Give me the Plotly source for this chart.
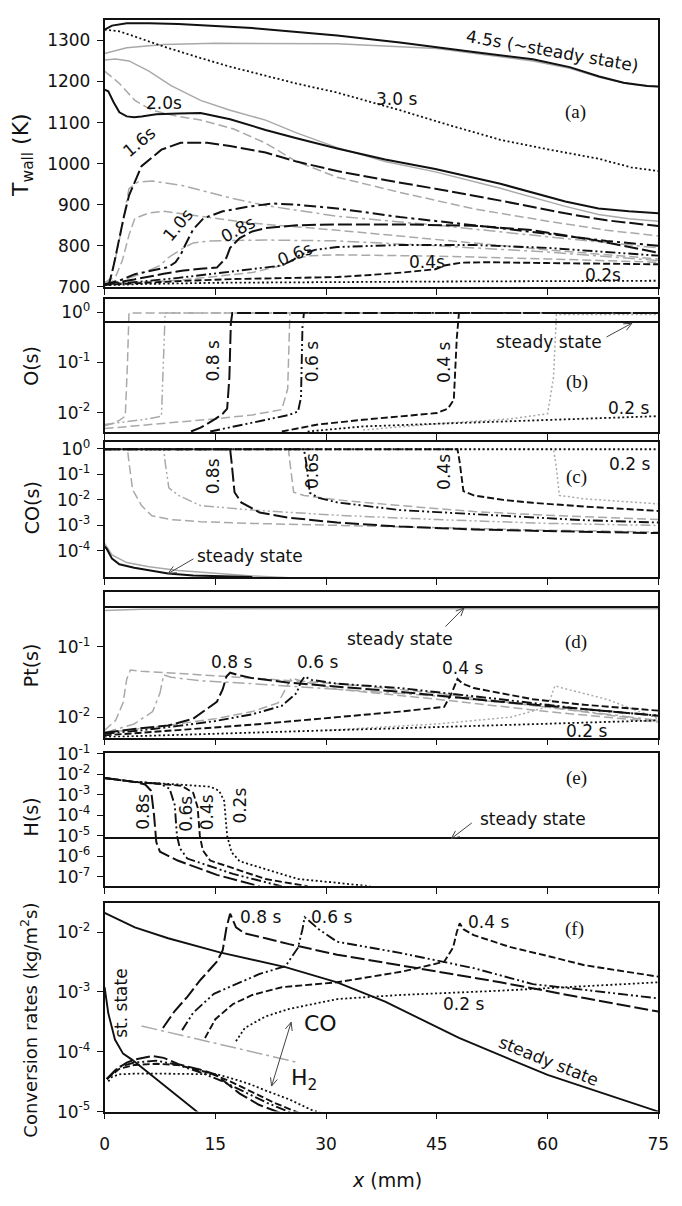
import math
import plotly.graph_objects as go

# ---------------------------------------------------------------------------
# Data: axial position x (mm) and profiles at several times
# ---------------------------------------------------------------------------
X_TICKS = [0, 15, 30, 45, 60, 75]
T_TICKS = [700, 800, 900, 1000, 1100, 1200, 1300]

# (a) wall temperature (K)
A_X_45 = [0, 1, 3, 6, 10, 20, 31.5, 40, 50, 58, 63, 67, 70.3, 73.5, 75]
A_T_45 = [1326, 1336, 1342, 1342, 1340, 1330, 1312, 1295, 1272, 1254, 1235, 1212, 1197, 1189, 1188]
A_X_40 = [0, 3, 8, 15, 31.5, 45, 58, 63, 67, 71, 75]
A_T_40 = [1268, 1282, 1290, 1293, 1292, 1280, 1250, 1232, 1210, 1194, 1187]
A_X_30 = [0, 2, 4, 8, 13, 17, 21.8, 26, 31.5, 40, 47, 53.6, 60, 66.9, 71.3, 75]
A_T_30 = [1326, 1322, 1310, 1285, 1257, 1236, 1214, 1195, 1173, 1130, 1092, 1058, 1035, 1012, 991, 982]
A_X_25 = [0, 1.5, 3.3, 6, 9, 13, 17, 21.8, 26, 31.5, 38, 44.8, 53.6, 62.4, 66.9, 71, 75]
A_T_25 = [1252, 1255, 1250, 1225, 1190, 1154, 1130, 1106, 1075, 1039, 1005, 980, 940, 896, 876, 866, 860]
A_X_20 = [0, 0.5, 1.2, 2, 3, 4, 5, 7, 10, 13, 17, 21.8, 26, 31.5, 38, 44.8, 53.6, 62.4, 66.9, 71, 75]
A_T_20 = [1180, 1176, 1150, 1125, 1115, 1113, 1115, 1120, 1122, 1123, 1108, 1082, 1062, 1037, 1010, 987, 951, 908, 891, 884, 879]
A_X_18 = [0, 1.9, 4.1, 6.4, 10, 13, 17.4, 21.8, 26, 31.5, 40, 50, 60, 68, 75]
A_T_18 = [1225, 1197, 1154, 1130, 1115, 1106, 1085, 1050, 1005, 967, 930, 890, 860, 838, 824]
A_X_16 = [0, 0.6, 1.2, 1.9, 2.6, 3.3, 5, 7.7, 10.3, 13.9, 17, 21.8, 26, 31.5, 38, 44.8, 53.6, 62.4, 68, 75]
A_T_16 = [705, 707, 750, 812, 870, 922, 994, 1034, 1051, 1051, 1043, 1027, 1005, 982, 960, 939, 910, 879, 862, 848]
A_X_14 = [0, 0.8, 1.5, 2.4, 3.3, 4.5, 6.4, 10.7, 17.4, 21.8, 31.5, 45, 60, 75]
A_T_14 = [710, 720, 771, 850, 939, 955, 958, 946, 915, 898, 872, 850, 822, 795]
A_X_12 = [0, 1.5, 2.4, 3.3, 4.1, 6, 8.1, 13, 20, 31.5, 45, 60, 75]
A_T_12 = [710, 725, 764, 826, 867, 880, 884, 872, 855, 838, 815, 790, 768]
A_X_10 = [0, 2, 4.1, 6.5, 8.6, 9.6, 10.3, 11, 12, 13.4, 16, 19, 22.7, 26, 31.5, 40, 48, 53.6, 62, 68, 75]
A_T_10 = [706, 715, 731, 740, 748, 760, 778, 805, 840, 867, 884, 894, 903, 900, 891, 870, 855, 843, 825, 812, 800]
A_X_09 = [0, 3, 5, 7.5, 8.6, 10.7, 12, 14.3, 21.8, 31.5, 45, 60, 75]
A_T_09 = [710, 720, 732, 752, 771, 795, 807, 812, 814, 812, 800, 785, 764]
A_X_08 = [0, 4, 8, 10.7, 13, 15.2, 16.5, 17, 18.3, 20, 21.8, 26, 31.5, 40, 50, 58, 66.9, 75]
A_T_08 = [706, 718, 732, 740, 744, 747, 771, 795, 819, 835, 843, 850, 852, 852, 849, 838, 812, 783]
A_X_07 = [0, 10, 20, 24, 26, 28, 31.5, 45, 60, 75]
A_T_07 = [708, 716, 735, 752, 770, 776, 778, 775, 768, 760]
A_X_06 = [0, 5, 10, 15, 20, 24, 25.5, 26.5, 28.5, 31.5, 40, 50, 60, 68, 75]
A_T_06 = [706, 713, 722, 733, 745, 752, 765, 778, 790, 797, 802, 802, 795, 785, 776]
A_X_04 = [0, 5, 10, 17.4, 25, 31.5, 36, 40.4, 44.8, 46, 48.3, 52, 60, 68, 75]
A_T_04 = [705, 710, 714, 719, 722, 724, 729, 735, 743, 752, 759, 760, 758, 756, 755]
A_X_02 = [0, 5, 15, 30, 45, 60, 75]
A_T_02 = [704, 707, 710, 712, 713, 714, 715]

# (b) O(s) coverage
B_X_SS = [0, 75]
B_O_SS = [0.64, 0.64]
B_X_08 = [11.7, 13, 15, 16, 16.6, 16.9, 17.1, 17.3, 75]
B_O_08 = [0.0042, 0.005, 0.0075, 0.0095, 0.012, 0.05, 0.6, 0.97, 0.97]
B_X_06 = [14.3, 18, 22, 25, 26.2, 26.6, 26.8, 27, 75]
B_O_06 = [0.0042, 0.0055, 0.0072, 0.009, 0.0105, 0.02, 0.5, 0.97, 0.97]
B_X_04 = [24, 28.9, 35, 40, 45, 46.5, 47.3, 47.7, 48, 75]
B_O_04 = [0.0042, 0.0058, 0.0072, 0.0083, 0.0098, 0.012, 0.018, 0.3, 0.97, 0.97]
B_X_02 = [27.5, 35, 45, 55, 65, 75]
B_O_02 = [0.0042, 0.0053, 0.006, 0.0068, 0.0076, 0.0085]
B_X_G1 = [0, 1, 2, 2.8, 3.1, 3.3, 75]
B_O_G1 = [0.0055, 0.006, 0.007, 0.0085, 0.1, 0.97, 0.97]
B_X_G2 = [0, 3, 6, 7.7, 8, 8.2, 75]
B_O_G2 = [0.0058, 0.0065, 0.0075, 0.0085, 0.1, 0.97, 0.97]
B_X_G3 = [0, 5, 10, 15, 20, 24, 24.8, 25.1, 75]
B_O_G3 = [0.0048, 0.0055, 0.0065, 0.0075, 0.009, 0.0115, 0.03, 0.97, 0.97]
B_X_G4 = [35, 45, 55, 60, 60.8, 61.2, 75]
B_O_G4 = [0.0045, 0.006, 0.0075, 0.0095, 0.05, 0.9, 0.9]

# (c) CO(s) coverage
C_X_SS = [0, 0.3, 1, 2, 4, 6, 8.6, 12, 17, 20]
C_CO_SS = [1.5e-4, 1.2e-4, 5e-5, 3e-5, 2.2e-5, 1.7e-5, 1.3e-5, 1.1e-5, 1e-5, 9.5e-6]
C_X_SSG = [0, 1, 3, 6, 10, 15, 20, 25]
C_CO_SSG = [2e-4, 7e-5, 3.5e-5, 2.4e-5, 1.7e-5, 1.3e-5, 1.05e-5, 9e-6]
C_X_08 = [0, 17, 17.2, 17.6, 18.5, 21, 25, 31.5, 40, 50, 60, 75]
C_CO_08 = [0.97, 0.97, 0.3, 0.02, 0.008, 0.0032, 0.002, 0.0013, 0.0009, 0.0007, 0.0006, 0.0005]
C_X_06 = [0, 27, 27.3, 27.8, 29, 31.5, 40, 53.6, 65, 75]
C_CO_06 = [0.97, 0.97, 0.3, 0.019, 0.012, 0.008, 0.004, 0.0024, 0.0016, 0.0013]
C_X_04 = [0, 47.8, 48.1, 48.6, 50, 54, 58, 65, 75]
C_CO_04 = [0.97, 0.97, 0.3, 0.022, 0.015, 0.01, 0.0077, 0.0055, 0.0037]
C_X_02 = [0, 75]
C_CO_02 = [0.97, 0.97]
C_X_G1 = [0, 3.1, 3.3, 3.8, 5, 6.4, 9, 13, 20, 31.5, 45, 60, 75]
C_CO_G1 = [0.97, 0.97, 0.3, 0.025, 0.006, 0.0024, 0.0017, 0.0014, 0.0012, 0.001, 0.0008, 0.00065, 0.00055]
C_X_G2 = [0, 8, 8.2, 8.7, 10, 13, 20, 31.5, 45, 60, 75]
C_CO_G2 = [0.97, 0.97, 0.3, 0.03, 0.015, 0.006, 0.004, 0.0025, 0.0017, 0.0012, 0.001]
C_X_G3 = [0, 24.9, 25.1, 25.6, 27, 31.5, 40, 50, 60, 75]
C_CO_G3 = [0.97, 0.97, 0.3, 0.02, 0.015, 0.01, 0.006, 0.0035, 0.0025, 0.0017]
C_X_G4 = [0, 60.8, 61.1, 61.6, 65, 70, 75]
C_CO_G4 = [0.97, 0.97, 0.3, 0.015, 0.011, 0.0085, 0.007]

# (d) Pt(s) free sites
D_X_SS = [0, 75]
D_PT_SS = [0.37, 0.37]
D_X_SSG = [0, 5, 20, 75]
D_PT_SSG = [0.33, 0.345, 0.35, 0.35]
D_X_08 = [0, 4, 8.6, 12, 15.2, 16, 16.5, 17, 18, 20, 25, 31.5, 40, 53.6, 65, 75]
D_PT_08 = [0.006, 0.0068, 0.0076, 0.0095, 0.0165, 0.025, 0.038, 0.043, 0.04, 0.036, 0.031, 0.027, 0.023, 0.0166, 0.013, 0.0105]
D_X_06 = [0, 5, 10, 15, 20, 24, 26, 26.6, 27.1, 28, 31.5, 40, 53.6, 65, 75]
D_PT_06 = [0.0058, 0.0065, 0.0075, 0.0088, 0.011, 0.0145, 0.022, 0.032, 0.038, 0.034, 0.03, 0.026, 0.018, 0.013, 0.0105]
D_X_04 = [0, 10, 20, 31.5, 40, 46, 47, 47.8, 48.5, 50, 58, 65, 75]
D_PT_04 = [0.0055, 0.0065, 0.0078, 0.01, 0.012, 0.014, 0.022, 0.035, 0.03, 0.026, 0.018, 0.015, 0.0124]
D_X_02 = [0, 15, 30, 45, 60, 75]
D_PT_02 = [0.0052, 0.0058, 0.0065, 0.0072, 0.008, 0.009]
D_X_G1 = [0, 1.5, 2.5, 3, 3.5, 5, 10, 20, 31.5, 45, 60, 75]
D_PT_G1 = [0.0065, 0.009, 0.016, 0.035, 0.047, 0.045, 0.042, 0.036, 0.03, 0.022, 0.014, 0.0087]
D_X_G2 = [0, 4, 6.5, 7.5, 8, 9, 13, 20, 31.5, 45, 60, 75]
D_PT_G2 = [0.006, 0.008, 0.012, 0.022, 0.04, 0.037, 0.033, 0.03, 0.025, 0.02, 0.014, 0.009]
D_X_G3 = [0, 8, 15, 20, 23.5, 24.8, 25.3, 27, 31.5, 45, 60, 75]
D_PT_G3 = [0.006, 0.0075, 0.0095, 0.012, 0.016, 0.028, 0.036, 0.032, 0.025, 0.018, 0.012, 0.0085]
D_X_G4 = [30, 45, 55, 60, 61, 62, 68, 75]
D_PT_G4 = [0.0065, 0.008, 0.01, 0.014, 0.028, 0.026, 0.018, 0.0095]

# (e) H(s) coverage
E_X_SS = [0, 75]
E_H_SS = [7.9e-6, 7.9e-6]
E_X_08 = [0, 2, 4, 5.5, 6.3, 6.7, 7, 7.5, 9.9, 15.2, 21]
E_H_08 = [6.6e-3, 5.4e-3, 4.3e-3, 3.2e-3, 1.6e-3, 1.0e-4, 5.0e-6, 1.7e-6, 6.3e-7, 1.26e-7, 3.5e-8]
E_X_06 = [0, 4, 7.5, 8.8, 9.5, 9.8, 10.2, 11.2, 17.4, 24]
E_H_06 = [6.6e-3, 4.3e-3, 3.5e-3, 2.0e-3, 3.2e-4, 1.0e-5, 2.5e-6, 7.9e-7, 1.4e-7, 3.5e-8]
E_X_04 = [0, 4, 10.4, 12, 12.6, 12.9, 13.3, 14.3, 21.8, 27.5]
E_H_04 = [6.6e-3, 4.3e-3, 2.8e-3, 1.26e-3, 2.5e-4, 1.0e-5, 2.0e-6, 6.3e-7, 7.9e-8, 3.5e-8]
E_X_02 = [0, 4, 10, 14.3, 15.5, 16.2, 16.6, 17.2, 18.3, 26.2, 31, 36]
E_H_02 = [6.6e-3, 4.3e-3, 3.2e-3, 2.5e-3, 1.6e-3, 5.0e-4, 1.0e-5, 1.6e-6, 5.8e-7, 7.9e-8, 5.4e-8, 3.5e-8]

# (f) conversion rates (kg/m^2 s): CO (upper group) and H2 (lower group)
F_X_CO_SS = [0, 2, 4.1, 8.6, 15.6, 24.5, 31.5, 38, 48, 60, 74, 75]
F_R_CO_SS = [2.1e-2, 1.6e-2, 1.2e-2, 7.9e-3, 4.6e-3, 2.6e-3, 1.45e-3, 6.9e-4, 1.7e-4, 4.1e-5, 1.07e-5, 1.0e-5]
F_X_H2_SS = [0, 0.5, 1.4, 2.5, 3.7, 8, 12.6, 14]
F_R_H2_SS = [1.2e-3, 4.4e-4, 1.6e-4, 9.3e-5, 7.4e-5, 2.8e-5, 1.0e-5, 7.1e-6]
F_X_CO_08 = [7.9, 9.5, 11.2, 13, 15.2, 16, 16.5, 17, 17.8, 19, 21.8, 25, 31.5, 40, 53.6, 65, 75]
F_R_CO_08 = [2.5e-4, 4.8e-4, 8.3e-4, 1.6e-3, 3.2e-3, 5.0e-3, 1.17e-2, 2.04e-2, 1.2e-2, 9.5e-3, 7.9e-3, 6.3e-3, 4.2e-3, 2.8e-3, 1.45e-3, 7.9e-4, 4.7e-4]
F_X_CO_06 = [10.5, 12, 14.8, 18, 21, 24.5, 26.2, 26.8, 27.1, 27.6, 29, 31.5, 40, 50, 58, 66, 75]
F_R_CO_06 = [2.3e-4, 4.5e-4, 9.3e-4, 1.4e-3, 2.0e-3, 2.7e-3, 5.5e-3, 1.12e-2, 1.78e-2, 1.58e-2, 1.12e-2, 6.9e-3, 4.5e-3, 2.5e-3, 1.35e-3, 1.05e-3, 7.8e-4]
F_X_CO_04 = [13.6, 15, 17.4, 20, 24, 31.5, 40.4, 46, 47.2, 47.7, 48.1, 48.6, 50, 55, 60, 65, 75]
F_R_CO_04 = [1.7e-4, 3.5e-4, 6.3e-4, 8.9e-4, 1.2e-3, 1.45e-3, 2.2e-3, 3.2e-3, 5.5e-3, 1.0e-2, 1.41e-2, 1.12e-2, 8.9e-3, 5.6e-3, 4.0e-3, 2.8e-3, 1.8e-3]
F_X_CO_02 = [17.8, 19, 21.8, 25, 31.5, 40, 53.6, 65, 75]
F_R_CO_02 = [1.5e-4, 2.5e-4, 3.9e-4, 5.2e-4, 7.6e-4, 8.9e-4, 1.05e-3, 1.26e-3, 1.45e-3]
F_X_ONSET = [5, 26.2]
F_R_ONSET = [2.7e-4, 6.6e-5]
F_X_H2_08 = [0.3, 1.5, 3, 4.1, 6.4, 8, 10, 13, 15, 18.3, 20.9, 22.7, 24]
F_R_H2_08 = [3.5e-5, 5.0e-5, 6.6e-5, 7.4e-5, 8.5e-5, 7.9e-5, 6.2e-5, 5.0e-5, 4.2e-5, 2.0e-5, 1.3e-5, 1.07e-5, 9.3e-6]
F_X_H2_06 = [0.3, 2, 4, 7, 10, 13, 16, 19, 22, 25.5]
F_R_H2_06 = [3.5e-5, 5.6e-5, 6.6e-5, 7.1e-5, 6.0e-5, 4.5e-5, 3.2e-5, 2.1e-5, 1.4e-5, 9.3e-6]
F_X_H2_04 = [0.3, 2, 4, 7, 10, 14, 17, 20, 23, 26.5]
F_R_H2_04 = [3.5e-5, 5.2e-5, 6.0e-5, 6.3e-5, 6.0e-5, 4.5e-5, 3.2e-5, 2.1e-5, 1.4e-5, 9.3e-6]
F_X_H2_02 = [0.5, 1, 2, 4, 8, 12, 15.2, 17.5, 19.6, 22, 25, 28, 29.5]
F_R_H2_02 = [3.2e-5, 3.8e-5, 4.2e-5, 4.3e-5, 4.3e-5, 4.3e-5, 4.2e-5, 3.5e-5, 2.9e-5, 2.2e-5, 1.6e-5, 1.07e-5, 9.3e-6]

# ---------------------------------------------------------------------------
# Page geometry (page pixels)
# ---------------------------------------------------------------------------
FIG_W, FIG_H = 682, 1206
PLOT_LEFT, PLOT_RIGHT = 102, 669
PANEL_PX = {1: (8, 280), 2: (292, 428), 3: (438, 576), 4: (591, 739), 5: (755, 890), 6: (908, 1120)}

SANS = "DejaVu Sans"
SERIF = "Liberation Serif"
BLACK = "#111111"
GREY = "#a9a9a9"

SOLID = "solid"
DOTTED = "2px,2.5px"
DASHED = "7px,3px"
DASHDOTDOT = "10px,3px,2px,3px,2px,3px"
LONGDASH = "14px,4px"
DASHDOT = "12px,4px,3px,4px"
G_DASHED = "9px,4px"
G_DASHDOT = "12px,4px,3px,4px"


def px_x(px):
    return px / FIG_W


def px_y(py):
    return 1 - py / FIG_H


fig = go.Figure()


def ax_ids(k):
    return ("x", "y") if k == 1 else (f"x{k}", f"y{k}")


def line(k, x, y, color=BLACK, dash=SOLID, width=1.9, name=""):
    xa, ya = ax_ids(k)
    fig.add_trace(go.Scatter(x=x, y=y, mode="lines", xaxis=xa, yaxis=ya, name=name,
                             line=dict(color=color, dash=dash, width=width),
                             showlegend=False, hoverinfo="skip"))


# (a)
line(1, A_X_40, A_T_40, GREY, SOLID, 1.5, "4.0 s")
line(1, A_X_25, A_T_25, GREY, SOLID, 1.5, "2.5 s")
line(1, A_X_18, A_T_18, GREY, G_DASHED, 1.5, "1.8 s")
line(1, A_X_14, A_T_14, GREY, G_DASHDOT, 1.5, "1.4 s")
line(1, A_X_12, A_T_12, GREY, G_DASHED, 1.5, "1.2 s")
line(1, A_X_09, A_T_09, GREY, G_DASHDOT, 1.5, "0.9 s")
line(1, A_X_07, A_T_07, GREY, G_DASHED, 1.5, "0.7 s")
line(1, A_X_02, A_T_02, BLACK, DOTTED, 1.8, "0.2 s")
line(1, A_X_04, A_T_04, BLACK, DASHED, 1.9, "0.4 s")
line(1, A_X_06, A_T_06, BLACK, DASHDOTDOT, 1.9, "0.6 s")
line(1, A_X_08, A_T_08, BLACK, LONGDASH, 2.0, "0.8 s")
line(1, A_X_10, A_T_10, BLACK, DASHDOT, 2.0, "1.0 s")
line(1, A_X_16, A_T_16, BLACK, LONGDASH, 2.0, "1.6 s")
line(1, A_X_20, A_T_20, BLACK, SOLID, 2.0, "2.0 s")
line(1, A_X_30, A_T_30, BLACK, DOTTED, 1.8, "3.0 s")
line(1, A_X_45, A_T_45, BLACK, SOLID, 2.0, "4.5 s")

# (b)
line(2, B_X_G1, B_O_G1, GREY, G_DASHED, 1.5)
line(2, B_X_G2, B_O_G2, GREY, DASHDOTDOT, 1.5)
line(2, B_X_G3, B_O_G3, GREY, G_DASHED, 1.5)
line(2, B_X_G4, B_O_G4, GREY, DOTTED, 1.5)
line(2, B_X_02, B_O_02, BLACK, DOTTED, 1.8, "0.2 s")
line(2, B_X_04, B_O_04, BLACK, DASHED, 1.9, "0.4 s")
line(2, B_X_06, B_O_06, BLACK, DASHDOTDOT, 1.9, "0.6 s")
line(2, B_X_08, B_O_08, BLACK, LONGDASH, 2.0, "0.8 s")
line(2, B_X_SS, B_O_SS, BLACK, SOLID, 2.0, "steady state")

# (c)
line(3, C_X_SSG, C_CO_SSG, GREY, SOLID, 1.5)
line(3, C_X_G1, C_CO_G1, GREY, G_DASHED, 1.5)
line(3, C_X_G2, C_CO_G2, GREY, DASHDOTDOT, 1.5)
line(3, C_X_G3, C_CO_G3, GREY, G_DASHED, 1.5)
line(3, C_X_G4, C_CO_G4, GREY, DOTTED, 1.5)
line(3, C_X_02, C_CO_02, BLACK, DOTTED, 1.8, "0.2 s")
line(3, C_X_04, C_CO_04, BLACK, DASHED, 1.9, "0.4 s")
line(3, C_X_06, C_CO_06, BLACK, DASHDOTDOT, 1.9, "0.6 s")
line(3, C_X_08, C_CO_08, BLACK, LONGDASH, 2.0, "0.8 s")
line(3, C_X_SS, C_CO_SS, BLACK, SOLID, 2.0, "steady state")

# (d)
line(4, D_X_SSG, D_PT_SSG, GREY, SOLID, 1.5)
line(4, D_X_G1, D_PT_G1, GREY, G_DASHED, 1.5)
line(4, D_X_G2, D_PT_G2, GREY, G_DASHDOT, 1.5)
line(4, D_X_G3, D_PT_G3, GREY, G_DASHED, 1.5)
line(4, D_X_G4, D_PT_G4, GREY, DOTTED, 1.5)
line(4, D_X_02, D_PT_02, BLACK, DOTTED, 1.8, "0.2 s")
line(4, D_X_04, D_PT_04, BLACK, DASHED, 1.9, "0.4 s")
line(4, D_X_06, D_PT_06, BLACK, DASHDOTDOT, 1.9, "0.6 s")
line(4, D_X_08, D_PT_08, BLACK, LONGDASH, 2.0, "0.8 s")
line(4, D_X_SS, D_PT_SS, BLACK, SOLID, 2.0, "steady state")

# (e)
line(5, E_X_02, E_H_02, BLACK, DOTTED, 1.8, "0.2 s")
line(5, E_X_04, E_H_04, BLACK, DASHED, 1.9, "0.4 s")
line(5, E_X_06, E_H_06, BLACK, DASHDOTDOT, 1.9, "0.6 s")
line(5, E_X_08, E_H_08, BLACK, LONGDASH, 2.0, "0.8 s")
line(5, E_X_SS, E_H_SS, BLACK, SOLID, 2.0, "steady state")

# (f)
line(6, F_X_ONSET, F_R_ONSET, GREY, "16px,4px,3px,4px", 1.5)
line(6, F_X_H2_02, F_R_H2_02, BLACK, DOTTED, 1.8)
line(6, F_X_H2_04, F_R_H2_04, BLACK, DASHED, 1.9)
line(6, F_X_H2_06, F_R_H2_06, BLACK, DASHDOTDOT, 1.9)
line(6, F_X_H2_08, F_R_H2_08, BLACK, LONGDASH, 2.0)
line(6, F_X_CO_02, F_R_CO_02, BLACK, DOTTED, 1.8, "0.2 s")
line(6, F_X_CO_04, F_R_CO_04, BLACK, DASHED, 1.9, "0.4 s")
line(6, F_X_CO_06, F_R_CO_06, BLACK, DASHDOTDOT, 1.9, "0.6 s")
line(6, F_X_CO_08, F_R_CO_08, BLACK, LONGDASH, 2.0, "0.8 s")
line(6, F_X_H2_SS, F_R_H2_SS, BLACK, SOLID, 1.9, "st. state")
line(6, F_X_CO_SS, F_R_CO_SS, BLACK, SOLID, 1.9, "steady state")

# ---------------------------------------------------------------------------
# Axes
# ---------------------------------------------------------------------------
def sup(e):
    return f"10<sup>{e}</sup>"


def log_ticks(exps):
    return dict(tickvals=[10.0 ** e for e in exps], ticktext=[sup(e) for e in exps])


Y_AXES = {
    1: dict(type="linear", range=[700, 1350], tickvals=T_TICKS, ticktext=[str(v) for v in T_TICKS]),
    2: dict(type="log", range=[-2.39, 0.27], **log_ticks([0, -1, -2])),
    3: dict(type="log", range=[-5.04, 0.27], **log_ticks([0, -1, -2, -3, -4])),
    4: dict(type="log", range=[-2.29, -0.22], **log_ticks([-1, -2])),
    5: dict(type="log", range=[-7.43, -0.97], **log_ticks([-1, -2, -3, -4, -5, -6, -7])),
    6: dict(type="log", range=[-5.0, -1.52], **log_ticks([-2, -3, -4, -5])),
}

layout = dict(width=FIG_W, height=FIG_H, margin=dict(l=0, r=0, t=0, b=0),
              paper_bgcolor="white", plot_bgcolor="white", showlegend=False,
              font=dict(family=SANS, color=BLACK))

for k in range(1, 7):
    top, bot = PANEL_PX[k]
    xa, ya = ax_ids(k)
    xkey = "xaxis" if k == 1 else f"xaxis{k}"
    ykey = "yaxis" if k == 1 else f"yaxis{k}"
    layout[xkey] = dict(domain=[px_x(PLOT_LEFT), px_x(PLOT_RIGHT)], range=[0, 75], anchor=ya,
                        showline=True, linecolor=BLACK, linewidth=1.6, mirror=True,
                        ticks="outside", ticklen=6, tickwidth=1.4, tickcolor=BLACK,
                        tickmode="array", tickvals=X_TICKS, showticklabels=(k == 6),
                        tickfont=dict(size=17, family=SANS, color=BLACK), ticklabelstandoff=10,
                        showgrid=False, zeroline=False)
    yd = Y_AXES[k]
    layout[ykey] = dict(domain=[px_y(bot), px_y(top)], anchor=xa, type=yd["type"], range=yd["range"],
                        tickmode="array", tickvals=yd["tickvals"], ticktext=yd["ticktext"],
                        showline=True, linecolor=BLACK, linewidth=1.6, mirror=True,
                        ticks="outside", ticklen=6, tickwidth=1.4, tickcolor=BLACK,
                        tickfont=dict(size=17, family=SANS, color=BLACK), ticklabelstandoff=3,
                        showgrid=False, zeroline=False)

# ---------------------------------------------------------------------------
# Text labels and arrows (positions in page pixels)
# ---------------------------------------------------------------------------
anns = []
shapes = []


def label(text, px, py, size=17, angle=0, family=SANS):
    anns.append(dict(text=text, x=px_x(px), y=px_y(py), xref="paper", yref="paper",
                     showarrow=False, textangle=angle, xanchor="center", yanchor="middle",
                     font=dict(size=size, family=family, color=BLACK)))


def _seg(p, q):
    shapes.append(dict(type="line", xref="paper", yref="paper",
                       x0=px_x(p[0]), y0=px_y(p[1]), x1=px_x(q[0]), y1=px_y(q[1]),
                       line=dict(color="#444444", width=1)))


def _head(tip, tail, size=9, spread=0.42):
    ang = math.atan2(tail[1] - tip[1], tail[0] - tip[0])
    for s in (-spread, spread):
        _seg(tip, (tip[0] + size * math.cos(ang + s), tip[1] + size * math.sin(ang + s)))


def arrow(tip, tail, both=False):
    _seg(tail, tip)
    _head(tip, tail)
    if both:
        _head(tail, tip)


# axis titles
label("T<sub>wall</sub> (K)", 18, 146, 22, -90)
label("O(s)", 27, 360, 19, -90)
label("CO(s)", 27, 505, 19, -90)
label("Pt(s)", 27, 665, 19, -90)
label("H(s)", 27, 820, 19, -90)
label("Conversion rates (kg/m<sup>2</sup>s)", 25, 1027, 18, -90)
label("<i>x</i> (mm)", 391, 1190, 19)

# (a)
label("4.5s (~steady state)", 561, 40, 17, 10)
label("3.0 s", 401, 89, 17)
label("(a)", 584, 102, 19, 0, SERIF)
label("2.0s", 163, 93, 17)
label("1.6s", 137, 132, 17, -40)
label("1.0s", 177, 217, 17, -50)
label("0.8s", 239, 221, 17, -28)
label("0.6s", 297, 247, 17, -22)
label("0.4s", 432, 255, 17)
label("0.2s", 612, 268, 17)

# (b)
label("0.8 s", 213, 356, 17, -90)
label("0.6 s", 314, 356, 17, -90)
label("0.4 s", 450, 357, 17, -90)
label("0.2 s", 638, 403, 17)
label("(b)", 586, 377, 19, 0, SERIF)
label("steady state", 557, 336, 17)
arrow((642, 317), (616, 331))

# (c)
label("0.8s", 213, 473, 17, -90)
label("0.6s", 315, 468, 17, -90)
label("0.4s", 450, 468, 17, -90)
label("0.2 s", 639, 460, 17)
label("(c)", 585, 474, 19, 0, SERIF)
label("steady state", 251, 554, 17)
arrow((167, 572), (193, 557))

# (d)
label("0.8 s", 232, 662, 17)
label("0.6 s", 320, 662, 17)
label("0.4 s", 469, 668, 17)
label("0.2 s", 595, 732, 17)
label("(d)", 585, 642, 19, 0, SERIF)
label("steady state", 404, 639, 17)
arrow((470, 607), (451, 626))

# (e)
label("0.8s", 141, 815, 17, -90)
label("0.6s", 185, 817, 17, -90)
label("0.4s", 207, 815, 17, -90)
label("0.2s", 241, 808, 17, -90)
label("(e)", 585, 780, 19, 0, SERIF)
label("steady state", 541, 822, 17)
arrow((457, 842), (478, 826))

# (f)
label("0.8 s", 262, 922, 17)
label("0.6 s", 334, 922, 17)
label("0.4 s", 495, 927, 17)
label("0.2 s", 470, 1010, 17)
label("(f)", 583, 934, 19, 0, SERIF)
label("steady state", 557, 1068, 17, 22)
label("st. state", 118, 1010, 17, -90)
label("CO", 323, 1030, 22)
label("H<sub>2</sub>", 306, 1087, 22)
arrow((293, 1029), (273, 1094), both=True)

layout["annotations"] = anns
layout["shapes"] = shapes
fig.update_layout(**layout)

fig.write_html("out.html")
